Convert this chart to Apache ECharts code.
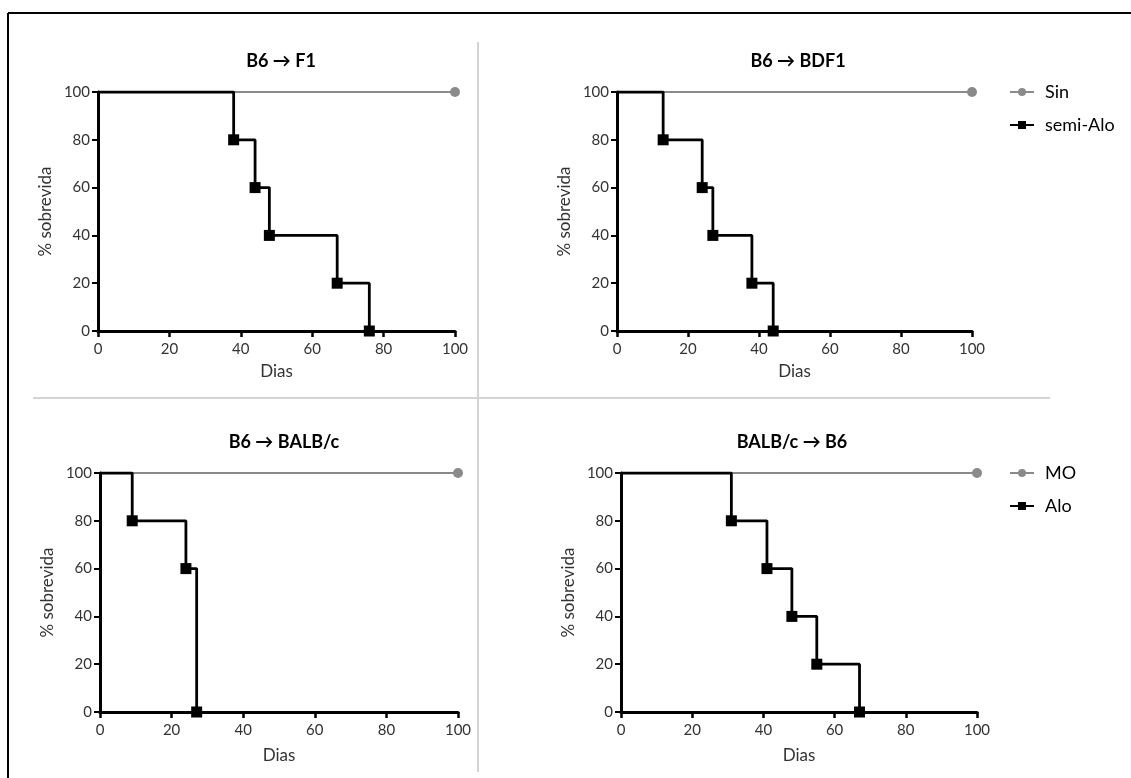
<!DOCTYPE html>
<html>
<head>
<meta charset="utf-8">
<script src="https://cdn.jsdelivr.net/npm/echarts@6/dist/echarts.min.js"></script>
<style>
html,body{margin:0;padding:0;background:#fff;}
#chart{width:1131px;height:778px;}
</style>
</head>
<body>
<div id="chart"></div>
<script>
// ---- Data ----
const panelTitles = ['B6 \u2192 F1', 'B6 \u2192 BDF1', 'B6 \u2192 BALB/c', 'BALB/c \u2192 B6'];
const controlNames = ['Sin', 'Sin', 'MO', 'MO'];
const graftNames = ['semi-Alo', 'semi-Alo', 'Alo', 'Alo'];

const controlDays = [0, 100];
const controlSurvival = [100, 100];

const daysF1 = [0, 38, 44, 48, 67, 76];
const survF1 = [100, 80, 60, 40, 20, 0];

const daysBDF1 = [0, 13, 24, 27, 38, 44];
const survBDF1 = [100, 80, 60, 40, 20, 0];

const daysBALBc = [0, 9, 24, 27];
const survBALBc = [100, 80, 60, 0];

const daysB6 = [0, 31, 41, 48, 55, 67];
const survB6 = [100, 80, 60, 40, 20, 0];

const xTicks = [0, 20, 40, 60, 80, 100];
const yTicks = [0, 20, 40, 60, 80, 100];

const graftDays = [daysF1, daysBDF1, daysBALBc, daysB6];
const graftSurv = [survF1, survBDF1, survBALBc, survB6];

// ---- Layout ----
const grids = [
  {left: 98, top: 92, width: 357, height: 239},
  {left: 617, top: 92, width: 355, height: 239},
  {left: 100, top: 473, width: 358, height: 239},
  {left: 621, top: 473, width: 356, height: 239}
];
const titlePos = [
  {x: 276, y: 47},
  {x: 793, y: 47},
  {x: 279, y: 428},
  {x: 787, y: 428}
];
const xNameGaps = [32, 32, 35, 35];

const FONT = 'Lato, "Liberation Sans", sans-serif';
const GREY = '#8a8a8a';

const legendBase = {
  orient: 'vertical', left: 1004,
  itemWidth: 24, itemHeight: 10, itemGap: 15,
  textStyle: {fontFamily: FONT, fontSize: 18, color: '#000', padding: [0, 0, 0, 6]},
  selectedMode: false
};

const option = {
  animation: false,
  backgroundColor: '#ffffff',
  textStyle: {fontFamily: FONT},
  title: panelTitles.map((t, i) => ({
    text: t,
    left: titlePos[i].x,
    top: titlePos[i].y,
    textAlign: 'center',
    textStyle: {fontFamily: FONT, fontSize: 18, fontWeight: 'bold', color: '#000'}
  })),
  grid: grids.map(g => Object.assign({containLabel: false}, g)),
  legend: [
    Object.assign({}, legendBase, {data: [controlNames[1], graftNames[1]], top: 78}),
    Object.assign({}, legendBase, {data: [controlNames[3], graftNames[3]], top: 459})
  ],
  xAxis: grids.map((g, i) => ({
    type: 'value', gridIndex: i, min: xTicks[0], max: xTicks[xTicks.length - 1], interval: xTicks[1] - xTicks[0],
    name: 'Dias', nameLocation: 'middle', nameGap: xNameGaps[i],
    nameTextStyle: {fontFamily: FONT, fontSize: 17, color: '#333'},
    axisLine: {onZero: false, lineStyle: {color: '#000', width: 3}},
    axisTick: {show: true, length: 6, lineStyle: {color: '#000', width: 2.5}},
    axisLabel: {margin: 11, fontFamily: FONT, fontSize: 15, color: '#333'},
    splitLine: {show: false}
  })),
  yAxis: grids.map((g, i) => ({
    type: 'value', gridIndex: i, min: yTicks[0], max: yTicks[yTicks.length - 1], interval: yTicks[1] - yTicks[0],
    name: '% sobrevida', nameLocation: 'middle', nameGap: 44,
    nameTextStyle: {fontFamily: FONT, fontSize: 17, color: '#333'},
    axisLine: {onZero: false, lineStyle: {color: '#000', width: 3}},
    axisTick: {show: true, length: 6, lineStyle: {color: '#000', width: 2}},
    axisLabel: {margin: 8, fontFamily: FONT, fontSize: 15, color: '#333'},
    splitLine: {show: false}
  })),
  series: [],
  graphic: [
    // outer frame (left + top edges)
    {type: 'line', shape: {x1: 8, y1: 13, x2: 1131, y2: 13}, style: {stroke: '#000', lineWidth: 2}, silent: true},
    {type: 'line', shape: {x1: 8, y1: 13, x2: 8, y2: 778}, style: {stroke: '#000', lineWidth: 2}, silent: true},
    // grey separators
    {type: 'line', shape: {x1: 478, y1: 42, x2: 478, y2: 772}, style: {stroke: '#d4d4d4', lineWidth: 2}, silent: true},
    {type: 'line', shape: {x1: 33, y1: 398, x2: 1050, y2: 398}, style: {stroke: '#d4d4d4', lineWidth: 2}, silent: true}
  ]
};

for (let i = 0; i < 4; i++) {
  const ctrl = controlDays.map((d, k) => ({
    value: [d, controlSurvival[k]],
    symbol: k === controlDays.length - 1 ? 'circle' : 'none'
  }));
  option.series.push({
    name: controlNames[i], type: 'line', xAxisIndex: i, yAxisIndex: i,
    data: ctrl, symbol: 'circle', symbolSize: 10, showAllSymbol: true,
    lineStyle: {color: GREY, width: 2}, itemStyle: {color: GREY},
    z: 2
  });
  const gd = graftDays[i].map((d, k) => ({
    value: [d, graftSurv[i][k]],
    symbol: k === 0 ? 'none' : 'rect'
  }));
  option.series.push({
    name: graftNames[i], type: 'line', xAxisIndex: i, yAxisIndex: i,
    data: gd, step: 'end', symbol: 'rect', symbolSize: 11, showAllSymbol: true,
    lineStyle: {color: '#000', width: 2.8}, itemStyle: {color: '#000'},
    z: 3
  });
}

const chart = echarts.init(document.getElementById('chart'), null, {renderer: 'canvas'});
chart.setOption(option);
</script>
</body>
</html>
